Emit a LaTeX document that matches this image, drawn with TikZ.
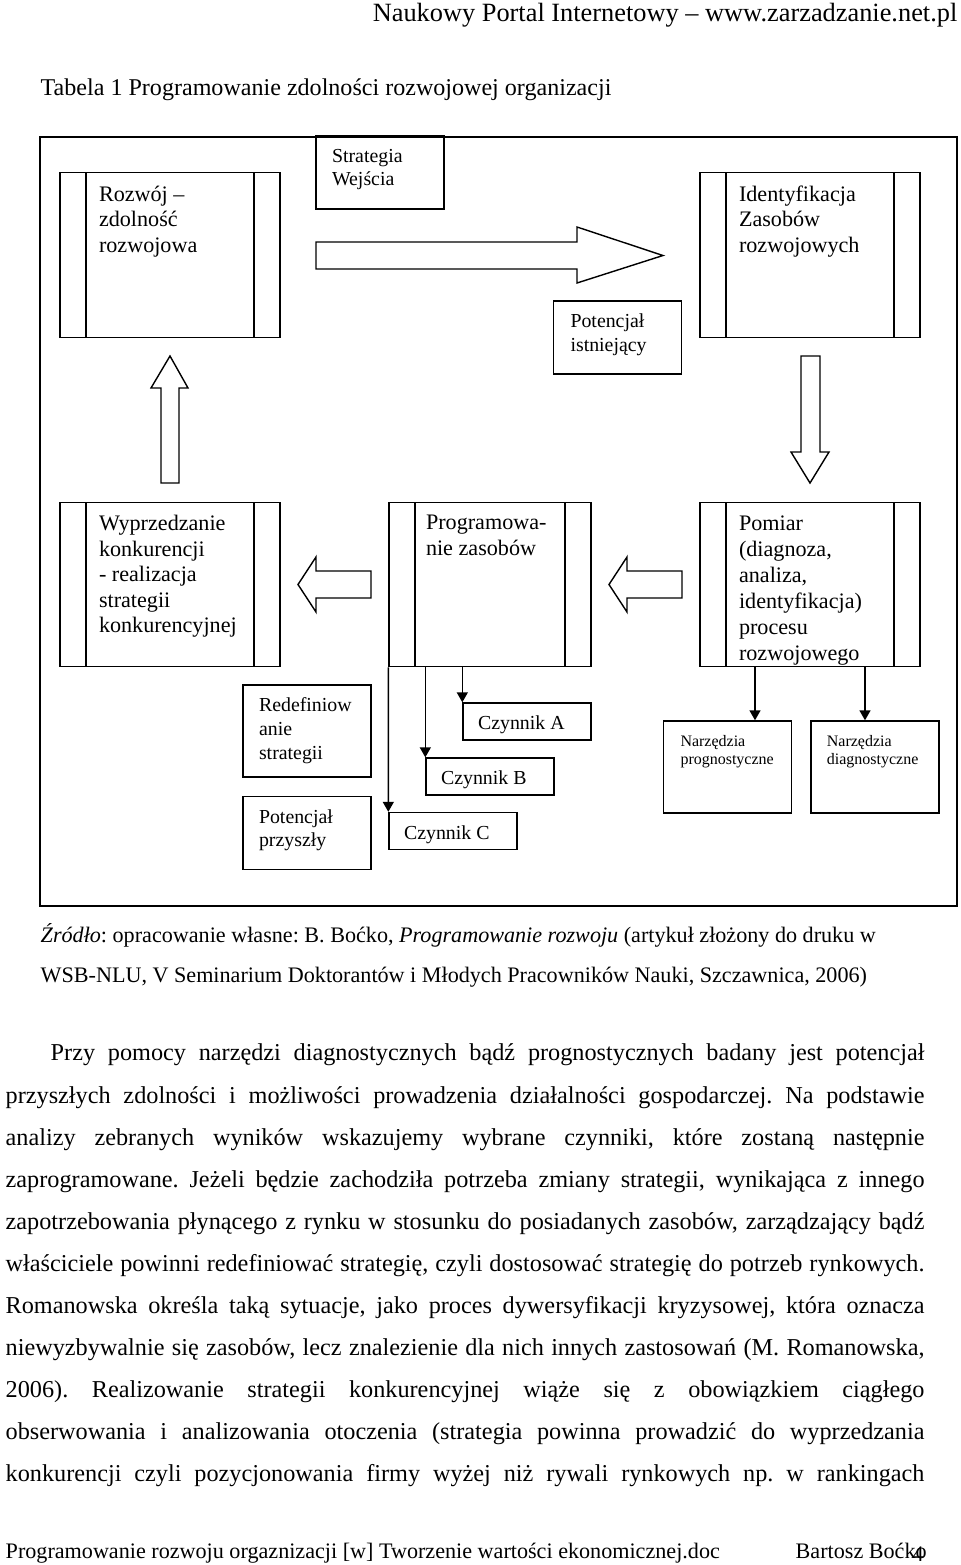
\documentclass[tikz,border=0pt]{standalone}
\usepackage{fontspec}
\setmainfont{Liberation Serif}
\usetikzlibrary{arrows.meta, positioning}
\frenchspacing

\begin{document}
\begin{tikzpicture}[
    x=0.02cm, y=-0.02cm,
    line width=0.8pt,
    proc/.style={draw, inner sep=0pt, minimum width=4.4cm, minimum height=3.29cm,
        path picture={\draw ([xshift=0.52cm]path picture bounding box.north west) -- ([xshift=0.52cm]path picture bounding box.south west)
            ([xshift=-0.52cm]path picture bounding box.north east) -- ([xshift=-0.52cm]path picture bounding box.south east);}},
    smallbox/.style={draw, inner sep=0pt, minimum width=2.56cm, minimum height=1.46cm},
    bigtxt/.style={anchor=north west, inner sep=0pt, align=left, font=\fontsize{12.6}{14.5}\selectfont},
    smalltxt/.style={anchor=north west, inner sep=0pt, align=left, font=\fontsize{11.3}{13.5}\selectfont},
    tinytxt/.style={anchor=north west, inner sep=0pt, align=left, font=\fontsize{9.1}{10.2}\selectfont},
    blockarrow/.style={draw, line width=0.8pt},
    arrow/.style={-{Triangle[length=0.2cm, width=0.22cm]}},
    capt/.style={anchor=base west, inner sep=0pt, font=\fontsize{12.6}{15}\selectfont},
    bodytxt/.style={anchor=base west, inner sep=0pt, font=\fontsize{13.8}{16}\selectfont}
]
\useasboundingbox (0,0) rectangle (960,1565);

% naglowek strony
\node[anchor=base east, inner sep=0pt, font=\fontsize{15}{18}\selectfont] (naglowek) at (958,21) {Naukowy Portal Internetowy – www.zarzadzanie.net.pl};
\node[anchor=base west, inner sep=0pt, font=\fontsize{13.7}{16}\selectfont] (tytul) at (40,95) {Tabela 1 Programowanie zdolności rozwojowej organizacji};

\draw[line width=1pt] (40,137) rectangle (957,906);

% bloki glowne
\node[proc] (rozwoj) at (170,255) {};
\node[proc] (identyf) at (810,255) {};
\node[proc] (wyprz) at (170,584.5) {};
\node[proc, minimum width=4.04cm] (program) at (490,584.5) {};
\node[proc] (pomiar) at (810,584.5) {};

\node[bigtxt] (rozwojT) at ([shift={(39,13)}]rozwoj.north west) {Rozwój –\\zdolność\\rozwojowa};
\node[bigtxt] (identyfT) at ([shift={(39,13)}]identyf.north west) {Identyfikacja\\Zasobów\\rozwojowych};
\node[bigtxt] (wyprzT) at ([shift={(39,13)}]wyprz.north west) {Wyprzedzanie\\konkurencji\\- realizacja\\strategii\\konkurencyjnej};
\node[bigtxt] (programT) at ([shift={(37,13)}]program.north west) {Programowa-\\nie zasobów};
\begin{scope}
\clip (pomiar.north west) rectangle (pomiar.south east);
\node[bigtxt, font=\fontsize{12.6}{14.8}\selectfont] (pomiarT) at ([shift={(39,14)}]pomiar.north west) {Pomiar\\(diagnoza,\\analiza,\\identyfikacja)\\procesu\\rozwojowego};
\end{scope}

% bloki male
\node[smallbox] (strateg) at (380,172.5) {};
\node[smallbox] (istniej) at (617.5,337.5) {};
\node[smallbox, minimum height=1.84cm] (redef) at (307,731) {};
\node[smallbox, below=0.36cm of redef] (przysz) {};
\node[smallbox, minimum height=0.74cm] (czynA) at (527,721.5) {};
\node[smallbox, minimum height=0.74cm] (czynB) at (490,776.5) {};
\node[smallbox, minimum height=0.74cm] (czynC) at (453,831) {};
\node[smallbox, minimum height=1.84cm] (narzP) at (727.5,767) {};
\node[smallbox, minimum height=1.84cm, right=0.36cm of narzP] (narzD) {};

\node[smalltxt] (strategT) at ([shift={(16,13)}]strateg.north west) {Strategia\\Wejścia};
\node[smalltxt] (istniejT) at ([shift={(17,13)}]istniej.north west) {Potencjał\\istniejący};
\node[smalltxt] (redefT) at ([shift={(16,13)}]redef.north west) {Redefiniow\\anie\\strategii};
\node[smalltxt] (przyszT) at ([shift={(16,13)}]przysz.north west) {Potencjał\\przyszły};
\node[smalltxt] (czynAT) at ([shift={(15,13)}]czynA.north west) {Czynnik A};
\node[smalltxt] (czynBT) at ([shift={(15,13)}]czynB.north west) {Czynnik B};
\node[smalltxt] (czynCT) at ([shift={(15,13)}]czynC.north west) {Czynnik C};
\node[tinytxt] (narzPT) at ([shift={(17,14)}]narzP.north west) {Narzędzia\\prognostyczne};
\node[tinytxt] (narzDT) at ([shift={(16,14)}]narzD.north west) {Narzędzia\\diagnostyczne};

% strzalki blokowe
\draw[blockarrow] (316,242) -- (577,242) -- (577,227) -- (663,255.5) -- (577,283) -- (577,269) -- (316,269) -- cycle;
\draw[blockarrow] (161,483) -- (161,388) -- (151,388) -- (170,356) -- (188,388) -- (179,388) -- (179,483) -- cycle;
\draw[blockarrow] (801,356) -- (801,452) -- (791,452) -- (810,483) -- (829,452) -- (820,452) -- (820,356) -- cycle;
\draw[blockarrow] (371,571) -- (316,571) -- (316,557) -- (298,584.5) -- (316,612) -- (316,598) -- (371,598) -- cycle;
\draw[blockarrow] (682,571) -- (627,571) -- (627,557) -- (609,584.5) -- (627,612) -- (627,598) -- (682,598) -- cycle;

% polaczenia
\draw[arrow] (program.south west) -- (czynC.north west);
\draw[arrow] (program.south -| czynB.north west) -- (czynB.north west);
\draw[arrow] (program.south -| czynA.north west) -- (czynA.north west);
\draw[arrow] ([xshift=-1.1cm]pomiar.south) -- ([xshift=-1.1cm]pomiar.south |- narzP.north);
\draw[arrow] ([xshift=1.1cm]pomiar.south) -- ([xshift=1.1cm]pomiar.south |- narzD.north);

% zrodlo
\node[capt] (zrodlo1) at (40,942) {\textit{Źródło}: opracowanie własne: B. Boćko, \textit{Programowanie rozwoju} (artykuł złożony do druku w};
\node[capt] (zrodlo2) at (40,982) {WSB-NLU, V Seminarium Doktorantów i Młodych Pracowników Nauki, Szczawnica, 2006)};

% tekst
\node[bodytxt] (l1) at (50,1060) {\makebox[17.48cm][s]{Przy pomocy narzędzi diagnostycznych bądź prognostycznych badany jest potencjał}};
\node[bodytxt] (l2) at (5,1103) {\makebox[18.38cm][s]{przyszłych zdolności i możliwości prowadzenia działalności gospodarczej. Na podstawie}};
\node[bodytxt] (l3) at (5,1145) {\makebox[18.38cm][s]{analizy zebranych wyników wskazujemy wybrane czynniki, które zostaną następnie}};
\node[bodytxt] (l4) at (5,1187) {\makebox[18.38cm][s]{zaprogramowane. Jeżeli będzie zachodziła potrzeba zmiany strategii, wynikająca z innego}};
\node[bodytxt] (l5) at (5,1229) {\makebox[18.38cm][s]{zapotrzebowania płynącego z rynku w stosunku do posiadanych zasobów, zarządzający bądź}};
\node[bodytxt] (l6) at (5,1271) {\makebox[18.38cm][s]{właściciele powinni redefiniować strategię, czyli dostosować strategię do potrzeb rynkowych.}};
\node[bodytxt] (l7) at (5,1313) {\makebox[18.38cm][s]{Romanowska określa taką sytuacje, jako proces dywersyfikacji kryzysowej, która oznacza}};
\node[bodytxt] (l8) at (5,1355) {\makebox[18.38cm][s]{niewyzbywalnie się zasobów, lecz znalezienie dla nich innych zastosowań (M. Romanowska,}};
\node[bodytxt] (l9) at (5,1397) {\makebox[18.38cm][s]{2006). Realizowanie strategii konkurencyjnej wiąże się z obowiązkiem ciągłego}};
\node[bodytxt] (l10) at (5,1439) {\makebox[18.38cm][s]{obserwowania i analizowania otoczenia (strategia powinna prowadzić do wyprzedzania}};
\node[bodytxt] (l11) at (5,1481) {\makebox[18.38cm][s]{konkurencji czyli pozycjonowania firmy wyżej niż rywali rynkowych np. w rankingach}};

% stopka
\node[capt] (stopka) at (5,1558) {Programowanie rozwoju orgaznizacji [w] Tworzenie wartości ekonomicznej.doc};
\node[capt] (autor) at (795,1558) {Bartosz Boćko};
\node[capt] (strona) at (912,1561) {4};

\end{tikzpicture}
\end{document}
